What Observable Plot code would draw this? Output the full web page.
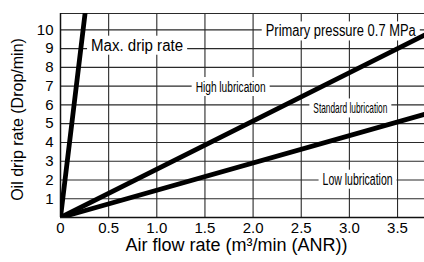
<!DOCTYPE html>
<html><head><meta charset="utf-8">
<script src="https://cdn.jsdelivr.net/npm/d3@7"></script>
<script src="https://cdn.jsdelivr.net/npm/@observablehq/plot@0.6"></script>
<style>body{margin:0;background:#fff}</style>
</head><body><div id="chart"></div>
<script>
// Axis ticks
const xTicks = [0, 0.5, 1, 1.5, 2, 2.5, 3, 3.5];
const xTickLabels = ["0", "0.5", "1.0", "1.5", "2.0", "2.5", "3.0", "3.5"];
const yTicks = [1, 2, 3, 4, 5, 6, 7, 8, 9, 10];
const xMax = 3.78;
const yMax = 10.87;

// Lines (air flow m3/min, oil drip rate drop/min)
const maxDripFlow = [0, 0.255];
const maxDripRate = [0, 10.87];
const highFlow = [0, 3.78];
const highRate = [0, 9.72];
const stdFlow = [0, 3.78];
const stdRate = [0, 5.5];

// Annotations
const labelText = ["Max. drip rate", "Primary pressure 0.7 MPa", "High lubrication", "Standard lubrication", "Low lubrication"];
const labelFlow = [0.795, 2.91, 1.767, 3.01, 3.085];
const labelRate = [9.16, 9.92, 6.95, 5.8, 2.02];

// styling for annotations
const labelFont = [16, 16, 15.5, 15, 16];
const labelWidth = [92, 150, 70, 74, 70];

const toRows = (fx, fy, name) => fx.map((x, i) => ({x, y: fy[i], s: name}));
const lineRows = [
  ...toRows(maxDripFlow, maxDripRate, "max"),
  ...toRows(highFlow, highRate, "high"),
  ...toRows(stdFlow, stdRate, "std")
];
const gridColor = "#2a2a2a";

const annotationMarks = labelText.map((t, i) =>
  Plot.text([{x: labelFlow[i], y: labelRate[i], t}], {
    x: "x", y: "y", text: "t", fontSize: labelFont[i], fill: "#000", textAnchor: "middle"
  })
);

const chart = Plot.plot({
  width: 424, height: 262,
  marginLeft: 60, marginRight: 0, marginTop: 13, marginBottom: 45,
  style: {fontFamily: "'Liberation Sans', Arial, sans-serif", background: "#fff"},
  x: {domain: [0, xMax]},
  y: {domain: [0, yMax]},
  marks: [
    Plot.ruleX(xTicks.filter(d => d > 0), {stroke: gridColor, strokeWidth: 1.1}),
    Plot.ruleY(yTicks, {stroke: gridColor, strokeWidth: 1.1}),
    Plot.ruleY([yMax], {stroke: gridColor, strokeWidth: 1.2}),
    Plot.ruleX([0], {stroke: "#111", strokeWidth: 1.5}),
    Plot.ruleY([0], {stroke: "#111", strokeWidth: 1.5}),
    Plot.axisX({ticks: xTicks, tickFormat: d => xTickLabels[xTicks.indexOf(d)], tickSize: 0, tickPadding: 5, fontSize: 15, label: null}),
    Plot.axisY({ticks: yTicks, tickSize: 0, tickPadding: 7, fontSize: 15, label: null}),
    ...annotationMarks,
    Plot.line(lineRows, {x: "x", y: "y", z: "s", stroke: "#000", strokeWidth: 4.8, clip: true}),
    Plot.text(["Air flow rate (m³/min (ANR))"], {frameAnchor: "bottom", dy: 33, dx: -6, fontSize: 18, fill: "#000"}),
    Plot.text(["Oil drip rate (Drop/min)"], {frameAnchor: "left", textAnchor: "middle", rotate: -90, dx: -43, dy: 4, fontSize: 16, fill: "#000"})
  ]
});
document.getElementById("chart").appendChild(chart);

chart.querySelectorAll("text").forEach(t => {
  const i = labelText.indexOf(t.textContent);
  if (i < 0) return;
  t.setAttribute("textLength", labelWidth[i]);
  t.setAttribute("lengthAdjust", "spacingAndGlyphs");
  const b = t.getBBox();
  const r = document.createElementNS("http://www.w3.org/2000/svg", "rect");
  r.setAttribute("x", b.x - 4);
  r.setAttribute("y", b.y - 1);
  r.setAttribute("width", b.width + 8);
  r.setAttribute("height", b.height + 2);
  r.setAttribute("fill", "#fff");
  const tr = t.getAttribute("transform");
  if (tr) r.setAttribute("transform", tr);
  t.parentNode.insertBefore(r, t);
});
</script>
</body></html>
